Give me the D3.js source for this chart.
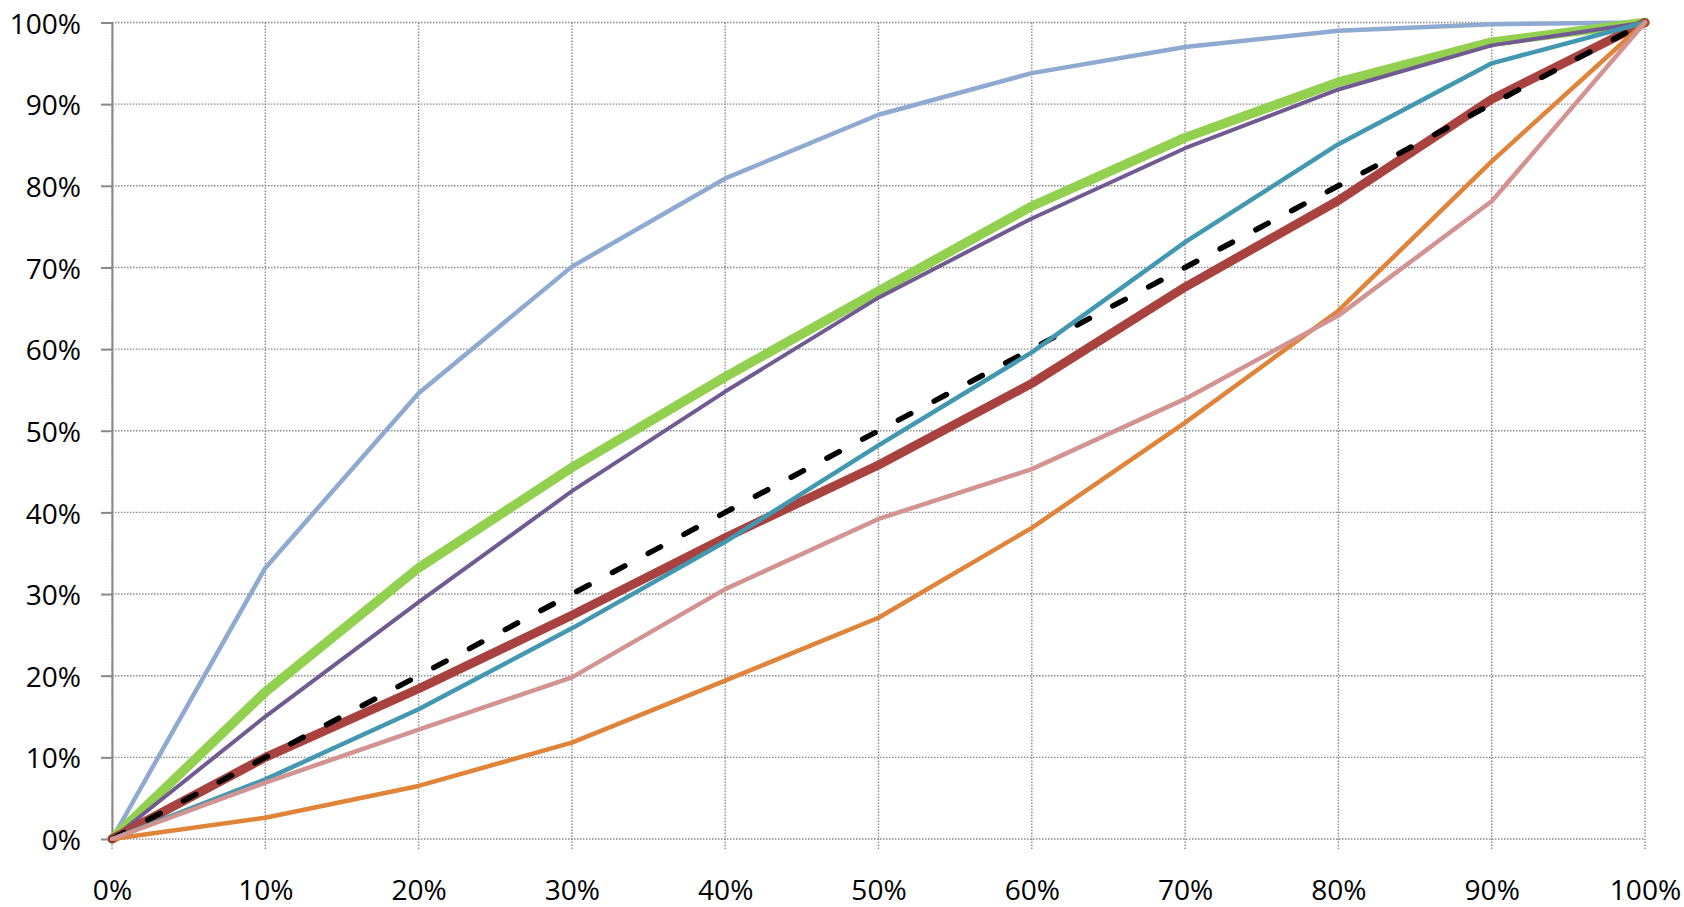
<!DOCTYPE html>
<html>
<head>
<meta charset="utf-8">
<script src="https://cdn.jsdelivr.net/npm/d3@7"></script>
<style>
body { margin: 0; background: #fff; }
svg { display: block; }
.tick text { font-family: "Open Sans", sans-serif; font-size: 26.5px; fill: #000; }
</style>
</head>
<body>
<svg class="chart"></svg>
<script>
// x positions (share, %) and tick labels
var shares = [0, 10, 20, 30, 40, 50, 60, 70, 80, 90, 100];
var tickLabels = ["0%", "10%", "20%", "30%", "40%", "50%", "60%", "70%", "80%", "90%", "100%"];

// curves (%)
var lightBlue = [0, 33.2, 54.6, 70.1, 80.9, 88.7, 93.8, 97.0, 99.0, 99.8, 100];
var green     = [0, 18.0, 33.2, 45.5, 56.6, 67.1, 77.5, 85.9, 92.7, 97.6, 100];
var purple    = [0, 15.0, 29.0, 42.6, 54.8, 66.3, 76.0, 84.6, 91.8, 97.2, 100];
var diagonal  = [0, 10, 20, 30, 40, 50, 60, 70, 80, 90, 100];
var red       = [0, 10.0, 18.4, 27.4, 36.9, 45.8, 55.8, 67.6, 78.2, 90.6, 100];
var teal      = [0, 7.3, 15.9, 25.8, 36.4, 48.2, 59.6, 73.1, 85.1, 95.0, 100];
var pink      = [0, 6.9, 13.4, 19.8, 30.6, 39.2, 45.3, 53.9, 64.1, 78.1, 100];
var orange    = [0, 2.6, 6.5, 11.8, 19.4, 27.1, 38.1, 51.0, 64.7, 83.0, 100];

var W = 1684, H = 907,
		margin = {top: 22.5, right: 39, bottom: 68, left: 112},
		w = W - margin.left - margin.right,
		h = H - margin.top - margin.bottom;

var xScale = d3.scaleLinear().domain([0, 100]).range([0, w]);
var yScale = d3.scaleLinear().domain([0, 100]).range([h, 0]);

var svg = d3.select(".chart")
		.attr("width", W)
		.attr("height", H);

var g = svg.append("g")
		.attr("transform", "translate(" + margin.left + "," + margin.top + ")");

// dotted grid
g.selectAll(".hgrid")
	.data(shares)
	.enter().append("line")
		.attr("x1", 0).attr("x2", w)
		.attr("y1", yScale).attr("y2", yScale)
		.attr("stroke", "#8a8a8a")
		.attr("stroke-width", 1.4)
		.attr("stroke-dasharray", "1.5,1.5");

g.selectAll(".vgrid")
	.data(shares)
	.enter().append("line")
		.attr("x1", xScale).attr("x2", xScale)
		.attr("y1", 0).attr("y2", h + 10)
		.attr("stroke", "#8a8a8a")
		.attr("stroke-width", 1.4)
		.attr("stroke-dasharray", "1.5,1.5");

// y axis: solid line + ticks
var yAxis = g.append("g")
		.call(d3.axisLeft(yScale)
			.tickValues(shares)
			.tickSize(11)
			.tickSizeOuter(0)
			.tickFormat(function(d, i) { return tickLabels[i]; }));

yAxis.select(".domain").attr("stroke", "#888").attr("stroke-width", 2);
yAxis.selectAll(".tick line").attr("stroke", "#888").attr("stroke-width", 2);
yAxis.selectAll("text")
		.attr("transform", "scale(1.06,1)")
		.attr("x", -31 / 1.06)
		.attr("dy", "0.4em");

// x axis: labels only
var xAxis = g.append("g")
		.attr("transform", "translate(0," + h + ")")
		.call(d3.axisBottom(xScale)
			.tickValues(shares)
			.tickSize(0)
			.tickFormat(function(d, i) { return tickLabels[i]; }));

xAxis.select(".domain").remove();
xAxis.selectAll("text")
		.attr("transform", "scale(1.06,1)")
		.attr("y", 42)
		.attr("dy", "0.71em");

// lines, back to front
var series = [
	{values: lightBlue, color: "#8faad0", width: 4.5},
	{values: green,     color: "#92d050", width: 9.5},
	{values: purple,    color: "#715a91", width: 4},
	{values: red,       color: "#a8423f", width: 9},
	{values: diagonal,  color: "#000",    width: 5.5, dash: "14,26.5"},
	{values: teal,      color: "#4198b0", width: 4.5},
	{values: orange,    color: "#e0843a", width: 4.5},
	{values: pink,      color: "#d29391", width: 4.5}
];

var line = d3.line()
		.x(function(d, i) { return xScale(shares[i]); })
		.y(function(d) { return yScale(d); });

g.selectAll(".series")
	.data(series)
	.enter().append("path")
		.attr("d", function(s) { return line(s.values); })
		.attr("fill", "none")
		.attr("stroke", function(s) { return s.color; })
		.attr("stroke-width", function(s) { return s.width; })
		.attr("stroke-dasharray", function(s) { return s.dash || null; })
		.attr("stroke-linejoin", "round")
		.attr("stroke-linecap", "round");
</script>
</body>
</html>
